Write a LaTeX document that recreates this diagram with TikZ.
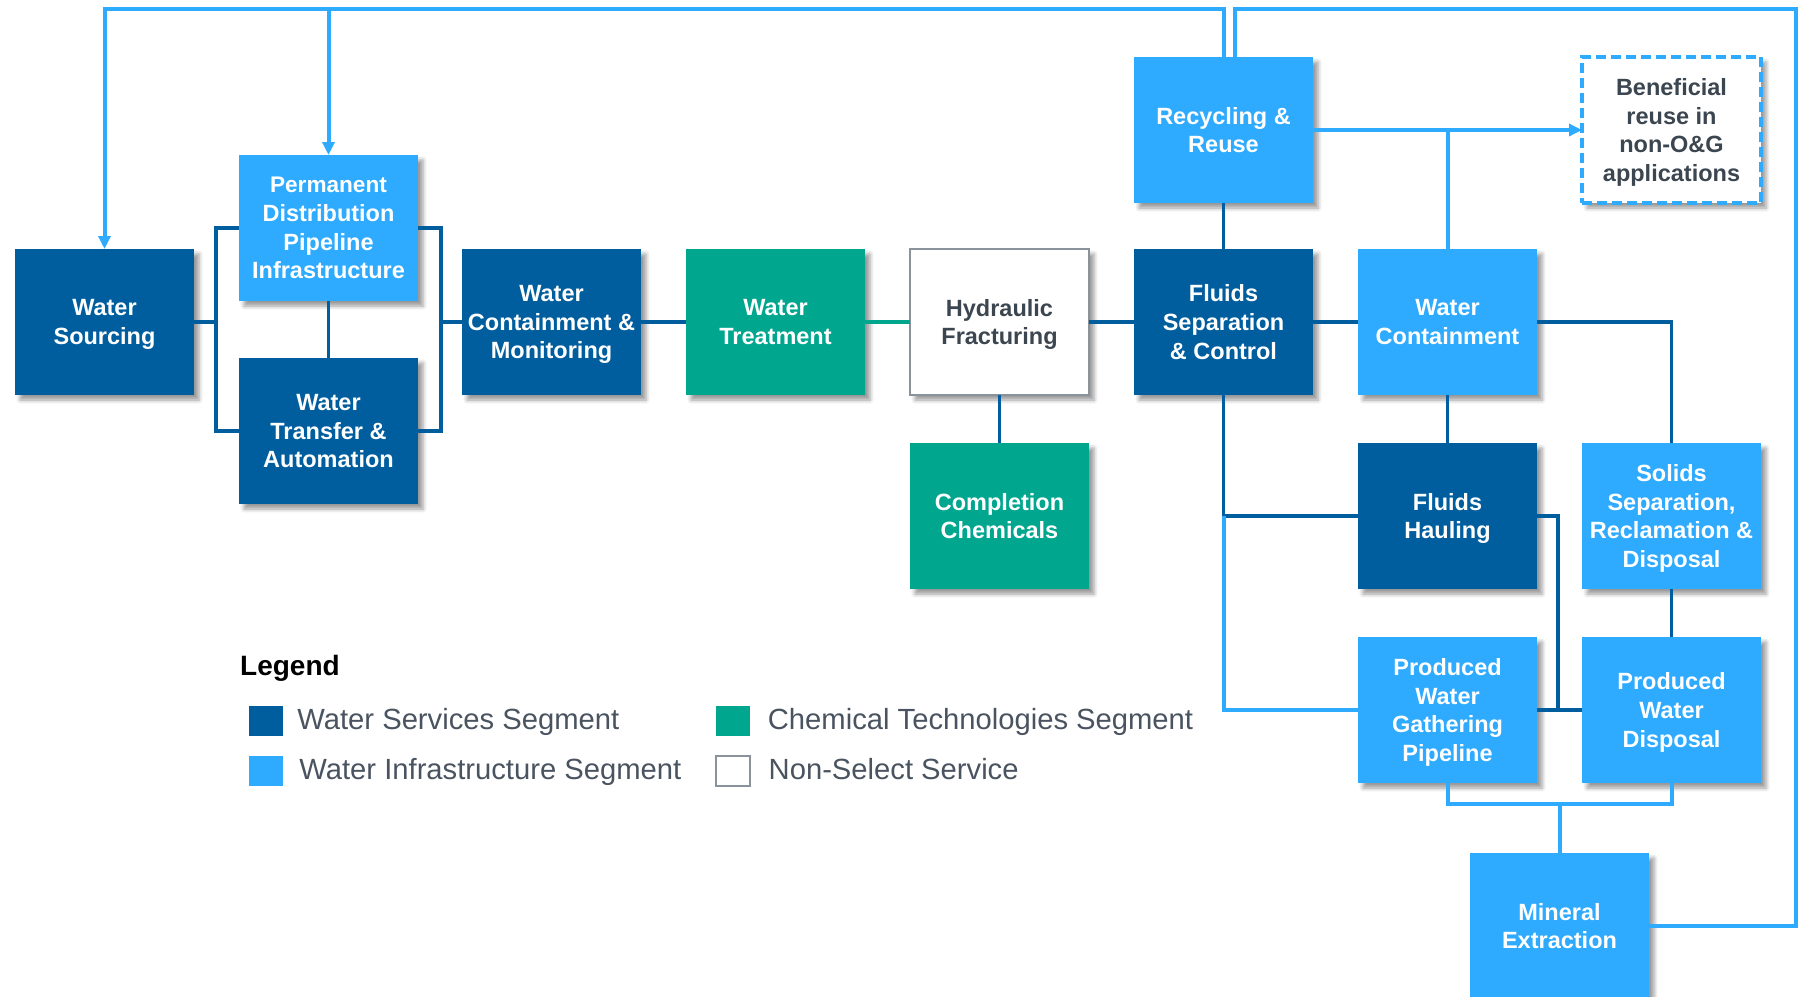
\documentclass[tikz,border=0pt]{standalone}
\usepackage{fontspec}
\setmainfont{Liberation Sans}
\usetikzlibrary{
  arrows.meta,
  positioning,  % Function "of" (e.g. [right=of ws])
  calc,         % Calculations $...$
  shadows.blur, % Soft shadow under the boxes
}
\definecolor{svcblue}{HTML}{005E9E}
\definecolor{infrablue}{HTML}{2EAAFF}
\definecolor{chemgreen}{HTML}{00A68E}
\definecolor{boxgray}{HTML}{8A939C}
\definecolor{textgray}{HTML}{3C4650}
\definecolor{legendgray}{HTML}{4A5360}
\def\myboxw{179pt}
\def\myboxh{146pt}
\def\myhdist{45pt}
\def\myvdist{48pt}
\tikzset{
  semithick,
  >={Triangle[length=13pt,width=12pt]},
  my box/.style={
    rectangle,
    minimum width=\myboxw,
    minimum height=\myboxh,
    inner sep=0pt,
    outer sep=0pt,
    text depth=0pt,
    align=center,
    text=white,
    font=\fontsize{23.5}{28.7}\selectfont\bfseries,
    blur shadow={shadow xshift=5pt,shadow yshift=-5pt,
                 shadow blur radius=4pt,shadow opacity=40}
  },
  my svc/.style={my box,fill=svcblue},
  my infra/.style={my box,fill=infrablue},
  my chem/.style={my box,fill=chemgreen},
  my select/.style={
    my box,
    fill=white,
    draw=boxgray,
    line width=2.5pt,
    text=textgray
  },
  my reuse/.style={
    my box,
    fill=white,
    draw=infrablue,
    line width=3.8pt,
    dash pattern=on 10pt off 5pt,
    text=textgray
  },
  my pipe/.style={draw=svcblue,line width=3.5pt},
  my feed/.style={draw=infrablue,line width=4pt},
  my chem link/.style={draw=chemgreen,line width=3.5pt},
  % Legend
  my key/.style={
    rectangle,
    minimum width=34pt,
    minimum height=30pt,
    inner sep=0pt
  },
  my legend text/.style={
    inner sep=0pt,
    text height=22pt,
    text depth=6pt,
    text=legendgray,
    font=\fontsize{29.2}{35}\selectfont
  },
  my legend title/.style={
    inner sep=0pt,
    anchor=base west,
    font=\fontsize{28}{34}\selectfont\bfseries
  }
}

\begin{document}
\begin{tikzpicture}[x=1pt,y=1pt,node distance=\myvdist and \myhdist]
\useasboundingbox (0,0) rectangle (1799,-996);
% main row
\node[my svc]    (ws)  at (104.5,-322)        {Water\\Sourcing};
\node[my infra]  (pdp) [right=of ws,yshift=94pt]
  {\fontsize{22.6}{27.2}\selectfont Permanent\\Distribution\\Pipeline\\Infrastructure};
\node[my svc]    (wta) [right=of ws,yshift=-109pt] {Water\\Transfer \&\\Automation};
\node[my svc]    (wcm) [right=268pt of ws]    {Water\\Containment \&\\Monitoring};
\node[my chem]   (wtr) [right=of wcm]         {Water\\Treatment};
\node[my select] (hf)  [right=of wtr]         {Hydraulic\\Fracturing};
\node[my svc]    (fs)  [right=of hf]          {Fluids\\Separation\\\& Control};
\node[my infra]  (wc)  [right=of fs]          {Water\\Containment};
% above and below
\node[my infra]  (rr)  [above=46pt of fs]     {Recycling \&\\Reuse};
\node[my chem]   (cc)  [below=of hf]          {Completion\\Chemicals};
\node[my svc]    (fh)  [below=of wc]          {Fluids\\Hauling};
\node[my infra]  (ss)  [right=of fh]          {Solids\\Separation,\\Reclamation \&\\Disposal};
\node[my reuse]  (ben) at (ss |- rr)          {Beneficial\\reuse in\\non-O\&G\\applications};
\node[my infra]  (pwg) [below=of fh]          {Produced\\Water\\Gathering\\Pipeline};
\node[my infra]  (pwd) [right=of pwg]         {Produced\\Water\\Disposal};
\coordinate (mid) at ($(pwg.south)!0.5!(pwd.south)$);
\node[my infra]  (me)  [below=70pt of mid]    {Mineral\\Extraction};

% services links
\path[my pipe] (pdp.west) -- ++(-23,0) coordinate (lbus) |- (wta.west);
\path[my pipe] (ws.east) -- (ws.east -| lbus);
\path[my pipe] (pdp.east) -- ++(23,0) coordinate (rbus) |- (wta.east);
\path[my pipe] (wcm.west) -- (wcm.west -| rbus);
\path[my pipe] (pdp.south) -- (wta.north);
\path[my pipe] (wcm.east) -- (wtr.west);
\path[my chem link] (wtr.east) -- (hf.west);
\path[my pipe] (hf.east) -- (fs.west)
               (hf.south) -- (cc.north)
               (fs.north) -- (rr.south)
               (fs.east) -- (wc.west)
               (wc.south) -- (fh.north)
               (ss.south) -- (pwd.north)
               (pwg.east) -- (pwd.west);
\path[my pipe] (wc.east) -| (ss.north);
\path[my pipe] (fs.south) |- (fh.west);
\path[my pipe] (fh.east) -- ++(21,0) coordinate (fhb) -- (fhb |- pwd.west);

% infrastructure links
\path[my feed] (fs.south |- fh.west) |- (pwg.west);
\path[my feed] (pwg.south) -- ++(0,-21) coordinate (pbus) -| (pwd.south);
\path[my feed] (me.north) -- (me.north |- pbus);
\path[my feed,->] (rr.east) -- (ben.west);
\path[my feed] (wc.north) -- (wc.north |- rr.east);
\coordinate (topR) at (1796,-9);
\path[my feed] (me.east) -| (topR) -| ([xshift=11pt]rr.north);
\path[my feed,->] (rr.north) |- (ws.north |- topR) -- (ws.north);
\path[my feed,->] (pdp.north |- topR) -- (pdp.north);

% legend
\node[my legend title] (legtitle) at (240,-675) {Legend};
\node[my key,fill=svcblue]   (key1) at (266,-721) {};
\node[my legend text,right=14pt of key1]   (lab1) {Water Services Segment};
\node[my key,fill=infrablue] (key2) at (266,-771) {};
\node[my legend text,right=16pt of key2]   (lab2) {Water Infrastructure Segment};
\node[my key,fill=chemgreen] (key3) at (733,-721) {};
\node[my legend text,right=17.5pt of key3] (lab3) {Chemical Technologies Segment};
\node[my key,fill=white,draw=boxgray,line width=2pt] (key4) at (733,-771) {};
\node[my legend text,right=17.5pt of key4] (lab4) {Non-Select Service};
\end{tikzpicture}
\end{document}
